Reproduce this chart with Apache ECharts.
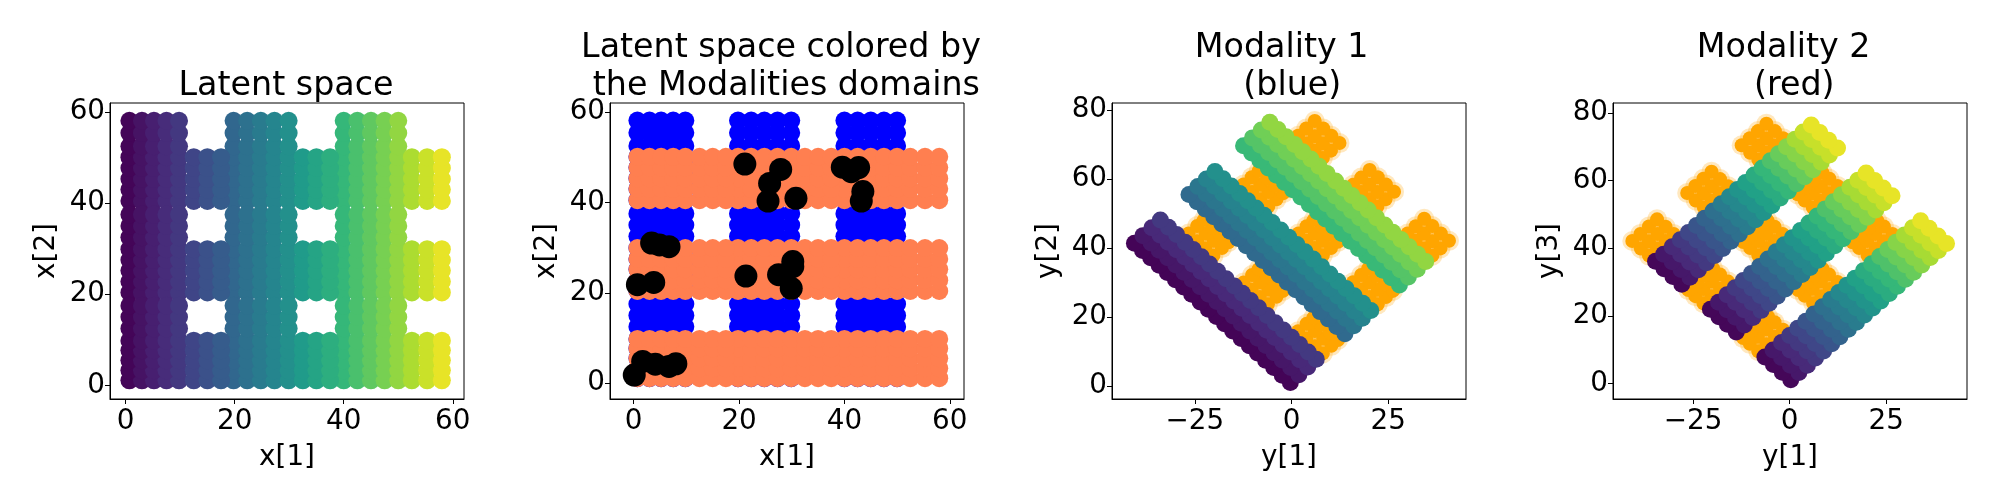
<!DOCTYPE html>
<html>
<head>
<meta charset="utf-8">
<style>
  html, body { margin: 0; padding: 0; background: #fff; }
  #chart { width: 2000px; height: 500px; }
</style>
<script src="https://cdn.jsdelivr.net/npm/echarts@6/dist/echarts.min.js"></script>
</head>
<body>
<div id="chart"></div>
<script>
// tick labels
const latentTicks = [0, 20, 40, 60];
const observedXTicks = [-25, 0, 25];
const observedYTicks = [0, 20, 40, 60, 80];

// latent space, points: [x1, x2]
const sharedPoints = [
  [.7,1.1],[3,1.1],[5.2,1.1],[7.5,1.1],[9.8,1.1],[19.8,1.1],[22.3,1.1],[24.8,1.1],[27.3,1.1],[29.9,1.1],[40,1.1],[42.5,1.1],[45,1.1],[47.5,1.1],[50,1.1],
  [.7,3.3],[3,3.3],[5.2,3.3],[7.5,3.3],[9.8,3.3],[19.8,3.3],[22.3,3.3],[24.8,3.3],[27.3,3.3],[29.9,3.3],[40,3.3],[42.5,3.3],[45,3.3],[47.5,3.3],[50,3.3],
  [.7,5.5],[3,5.5],[5.2,5.5],[7.5,5.5],[9.8,5.5],[19.8,5.5],[22.3,5.5],[24.8,5.5],[27.3,5.5],[29.9,5.5],[40,5.5],[42.5,5.5],[45,5.5],[47.5,5.5],[50,5.5],
  [.7,7.7],[3,7.7],[5.2,7.7],[7.5,7.7],[9.8,7.7],[19.8,7.7],[22.3,7.7],[24.8,7.7],[27.3,7.7],[29.9,7.7],[40,7.7],[42.5,7.7],[45,7.7],[47.5,7.7],[50,7.7],
  [.7,9.8],[3,9.8],[5.2,9.8],[7.5,9.8],[9.8,9.8],[19.8,9.8],[22.3,9.8],[24.8,9.8],[27.3,9.8],[29.9,9.8],[40,9.8],[42.5,9.8],[45,9.8],[47.5,9.8],[50,9.8],
  [.7,20.4],[3,20.4],[5.2,20.4],[7.5,20.4],[9.8,20.4],[19.8,20.4],[22.3,20.4],[24.8,20.4],[27.3,20.4],[29.9,20.4],[40,20.4],[42.5,20.4],[45,20.4],[47.5,20.4],[50,20.4],
  [.7,22.8],[3,22.8],[5.2,22.8],[7.5,22.8],[9.8,22.8],[19.8,22.8],[22.3,22.8],[24.8,22.8],[27.3,22.8],[29.9,22.8],[40,22.8],[42.5,22.8],[45,22.8],[47.5,22.8],[50,22.8],
  [.7,25.2],[3,25.2],[5.2,25.2],[7.5,25.2],[9.8,25.2],[19.8,25.2],[22.3,25.2],[24.8,25.2],[27.3,25.2],[29.9,25.2],[40,25.2],[42.5,25.2],[45,25.2],[47.5,25.2],[50,25.2],
  [.7,27.5],[3,27.5],[5.2,27.5],[7.5,27.5],[9.8,27.5],[19.8,27.5],[22.3,27.5],[24.8,27.5],[27.3,27.5],[29.9,27.5],[40,27.5],[42.5,27.5],[45,27.5],[47.5,27.5],[50,27.5],
  [.7,29.9],[3,29.9],[5.2,29.9],[7.5,29.9],[9.8,29.9],[19.8,29.9],[22.3,29.9],[24.8,29.9],[27.3,29.9],[29.9,29.9],[40,29.9],[42.5,29.9],[45,29.9],[47.5,29.9],[50,29.9],
  [.7,40.5],[3,40.5],[5.2,40.5],[7.5,40.5],[9.8,40.5],[19.8,40.5],[22.3,40.5],[24.8,40.5],[27.3,40.5],[29.9,40.5],[40,40.5],[42.5,40.5],[45,40.5],[47.5,40.5],[50,40.5],
  [.7,43],[3,43],[5.2,43],[7.5,43],[9.8,43],[19.8,43],[22.3,43],[24.8,43],[27.3,43],[29.9,43],[40,43],[42.5,43],[45,43],[47.5,43],[50,43],
  [.7,45.3],[3,45.3],[5.2,45.3],[7.5,45.3],[9.8,45.3],[19.8,45.3],[22.3,45.3],[24.8,45.3],[27.3,45.3],[29.9,45.3],[40,45.3],[42.5,45.3],[45,45.3],[47.5,45.3],[50,45.3],
  [.7,47.7],[3,47.7],[5.2,47.7],[7.5,47.7],[9.8,47.7],[19.8,47.7],[22.3,47.7],[24.8,47.7],[27.3,47.7],[29.9,47.7],[40,47.7],[42.5,47.7],[45,47.7],[47.5,47.7],[50,47.7],
  [.7,50.1],[3,50.1],[5.2,50.1],[7.5,50.1],[9.8,50.1],[19.8,50.1],[22.3,50.1],[24.8,50.1],[27.3,50.1],[29.9,50.1],[40,50.1],[42.5,50.1],[45,50.1],[47.5,50.1],[50,50.1]
];
const blueOnlyPoints = [
  [.7,12.5],[3,12.5],[5.2,12.5],[7.5,12.5],[9.8,12.5],[19.8,12.5],[22.3,12.5],[24.8,12.5],[27.3,12.5],[29.9,12.5],[40,12.5],[42.5,12.5],[45,12.5],[47.5,12.5],[50,12.5],
  [.7,15],[3,15],[5.2,15],[7.5,15],[9.8,15],[19.8,15],[22.3,15],[24.8,15],[27.3,15],[29.9,15],[40,15],[42.5,15],[45,15],[47.5,15],[50,15],
  [.7,17.5],[3,17.5],[5.2,17.5],[7.5,17.5],[9.8,17.5],[19.8,17.5],[22.3,17.5],[24.8,17.5],[27.3,17.5],[29.9,17.5],[40,17.5],[42.5,17.5],[45,17.5],[47.5,17.5],[50,17.5],
  [.7,32.5],[3,32.5],[5.2,32.5],[7.5,32.5],[9.8,32.5],[19.8,32.5],[22.3,32.5],[24.8,32.5],[27.3,32.5],[29.9,32.5],[40,32.5],[42.5,32.5],[45,32.5],[47.5,32.5],[50,32.5],
  [.7,35],[3,35],[5.2,35],[7.5,35],[9.8,35],[19.8,35],[22.3,35],[24.8,35],[27.3,35],[29.9,35],[40,35],[42.5,35],[45,35],[47.5,35],[50,35],
  [.7,37.5],[3,37.5],[5.2,37.5],[7.5,37.5],[9.8,37.5],[19.8,37.5],[22.3,37.5],[24.8,37.5],[27.3,37.5],[29.9,37.5],[40,37.5],[42.5,37.5],[45,37.5],[47.5,37.5],[50,37.5],
  [.7,52.5],[3,52.5],[5.2,52.5],[7.5,52.5],[9.8,52.5],[19.8,52.5],[22.3,52.5],[24.8,52.5],[27.3,52.5],[29.9,52.5],[40,52.5],[42.5,52.5],[45,52.5],[47.5,52.5],[50,52.5],
  [.7,55.4],[3,55.4],[5.2,55.4],[7.5,55.4],[9.8,55.4],[19.8,55.4],[22.3,55.4],[24.8,55.4],[27.3,55.4],[29.9,55.4],[40,55.4],[42.5,55.4],[45,55.4],[47.5,55.4],[50,55.4],
  [.7,58.1],[3,58.1],[5.2,58.1],[7.5,58.1],[9.8,58.1],[19.8,58.1],[22.3,58.1],[24.8,58.1],[27.3,58.1],[29.9,58.1],[40,58.1],[42.5,58.1],[45,58.1],[47.5,58.1],[50,58.1]
];
const redOnlyPoints = [
  [12.5,1.1],[15,1.1],[17.5,1.1],[32.5,1.1],[35,1.1],[37.5,1.1],[52.5,1.1],[55.3,1.1],[58,1.1],
  [12.5,3.3],[15,3.3],[17.5,3.3],[32.5,3.3],[35,3.3],[37.5,3.3],[52.5,3.3],[55.3,3.3],[58,3.3],
  [12.5,5.5],[15,5.5],[17.5,5.5],[32.5,5.5],[35,5.5],[37.5,5.5],[52.5,5.5],[55.3,5.5],[58,5.5],
  [12.5,7.7],[15,7.7],[17.5,7.7],[32.5,7.7],[35,7.7],[37.5,7.7],[52.5,7.7],[55.3,7.7],[58,7.7],
  [12.5,9.8],[15,9.8],[17.5,9.8],[32.5,9.8],[35,9.8],[37.5,9.8],[52.5,9.8],[55.3,9.8],[58,9.8],
  [12.5,20.4],[15,20.4],[17.5,20.4],[32.5,20.4],[35,20.4],[37.5,20.4],[52.5,20.4],[55.3,20.4],[58,20.4],
  [12.5,22.8],[15,22.8],[17.5,22.8],[32.5,22.8],[35,22.8],[37.5,22.8],[52.5,22.8],[55.3,22.8],[58,22.8],
  [12.5,25.2],[15,25.2],[17.5,25.2],[32.5,25.2],[35,25.2],[37.5,25.2],[52.5,25.2],[55.3,25.2],[58,25.2],
  [12.5,27.5],[15,27.5],[17.5,27.5],[32.5,27.5],[35,27.5],[37.5,27.5],[52.5,27.5],[55.3,27.5],[58,27.5],
  [12.5,29.9],[15,29.9],[17.5,29.9],[32.5,29.9],[35,29.9],[37.5,29.9],[52.5,29.9],[55.3,29.9],[58,29.9],
  [12.5,40.5],[15,40.5],[17.5,40.5],[32.5,40.5],[35,40.5],[37.5,40.5],[52.5,40.5],[55.3,40.5],[58,40.5],
  [12.5,43],[15,43],[17.5,43],[32.5,43],[35,43],[37.5,43],[52.5,43],[55.3,43],[58,43],
  [12.5,45.3],[15,45.3],[17.5,45.3],[32.5,45.3],[35,45.3],[37.5,45.3],[52.5,45.3],[55.3,45.3],[58,45.3],
  [12.5,47.7],[15,47.7],[17.5,47.7],[32.5,47.7],[35,47.7],[37.5,47.7],[52.5,47.7],[55.3,47.7],[58,47.7],
  [12.5,50.1],[15,50.1],[17.5,50.1],[32.5,50.1],[35,50.1],[37.5,50.1],[52.5,50.1],[55.3,50.1],[58,50.1]
];
// the black dots of panel 2
const pairedPoints = [
  [.1,1.8],[1.7,4.8],[4.1,4.2],[6.7,3.7],[8,4.3],[.7,21.8],[3.8,22.3],[3.4,31],[4.9,30.6],[6.7,30.2],
  [21.3,23.7],[27.5,24],[30.2,26.9],[30.2,25.8],[29.9,21],[21.1,48.5],[27.9,47.3],[25.8,44.2],[25.5,40.3],
  [30.8,40.9],[39.6,47.8],[41.3,46.8],[42.7,47.7],[43.5,42.4],[43.2,40.3]
];

// modality 1, one line of [y1, y2] along each band, with the band's color value
const m1LineValues = [.5, 3.7, 6.9, 10, 20.5, 23.7, 26.9, 30, 40.5, 43.7, 46.9, 50];
const m1Lines = [
  [[-.3,1.1],[-2.4,3.2],[-4.6,5.4],[-6.7,7.5],[-8.8,9.6],[-10.9,11.7],[-13,13.8],[-15.2,16],[-17.3,18.1],[-19.4,20.2],[-21.5,22.3],[-23.6,24.4],[-25.8,26.6],[-27.9,28.7],[-30,30.8],[-32.1,32.9],[-34.2,35],[-36.4,37.2],[-38.5,39.3],[-40.6,41.4]],
  [[1.9,3.3],[-.2,5.4],[-2.4,7.6],[-4.5,9.7],[-6.6,11.8],[-8.7,13.9],[-10.8,16],[-13,18.2],[-15.1,20.3],[-17.2,22.4],[-19.3,24.5],[-21.4,26.6],[-23.6,28.8],[-25.7,30.9],[-27.8,33],[-29.9,35.1],[-32,37.2],[-34.2,39.4],[-36.3,41.5],[-38.4,43.6]],
  [[4.2,5.6],[2.1,7.7],[-.1,9.9],[-2.2,12],[-4.3,14.1],[-6.4,16.2],[-8.5,18.3],[-10.7,20.5],[-12.8,22.6],[-14.9,24.7],[-17,26.8],[-19.1,28.9],[-21.3,31.1],[-23.4,33.2],[-25.5,35.3],[-27.6,37.4],[-29.7,39.5],[-31.9,41.7],[-34,43.8],[-36.1,45.9]],
  [[6.4,7.8],[4.3,9.9],[2.1,12.1],[0,14.2],[-2.1,16.3],[-4.2,18.4],[-6.3,20.5],[-8.5,22.7],[-10.6,24.8],[-12.7,26.9],[-14.8,29],[-16.9,31.1],[-19.1,33.3],[-21.2,35.4],[-23.3,37.5],[-25.4,39.6],[-27.5,41.7],[-29.7,43.9],[-31.8,46],[-33.9,48.1]],
  [[13.8,15.2],[11.7,17.3],[9.5,19.5],[7.4,21.6],[5.3,23.7],[3.2,25.8],[1.1,27.9],[-1.1,30.1],[-3.2,32.2],[-5.3,34.3],[-7.4,36.4],[-9.5,38.5],[-11.7,40.7],[-13.8,42.8],[-15.9,44.9],[-18,47],[-20.1,49.1],[-22.3,51.3],[-24.4,53.4],[-26.5,55.5]],
  [[16.1,17.5],[14,19.6],[11.8,21.8],[9.7,23.9],[7.6,26],[5.5,28.1],[3.4,30.2],[1.2,32.4],[-.9,34.5],[-3,36.6],[-5.1,38.7],[-7.2,40.8],[-9.4,43],[-11.5,45.1],[-13.6,47.2],[-15.7,49.3],[-17.8,51.4],[-20,53.6],[-22.1,55.7],[-24.2,57.8]],
  [[18.3,19.7],[16.2,21.8],[14,24],[11.9,26.1],[9.8,28.2],[7.7,30.3],[5.6,32.4],[3.4,34.6],[1.3,36.7],[-.8,38.8],[-2.9,40.9],[-5,43],[-7.2,45.2],[-9.3,47.3],[-11.4,49.4],[-13.5,51.5],[-15.6,53.6],[-17.8,55.8],[-19.9,57.9],[-22,60]],
  [[20.5,21.9],[18.4,24],[16.2,26.2],[14.1,28.3],[12,30.4],[9.9,32.5],[7.8,34.6],[5.6,36.8],[3.5,38.9],[1.4,41],[-.7,43.1],[-2.8,45.2],[-5,47.4],[-7.1,49.5],[-9.2,51.6],[-11.3,53.7],[-13.4,55.8],[-15.6,58],[-17.7,60.1],[-19.8,62.2]],
  [[27.9,29.3],[25.8,31.4],[23.6,33.6],[21.5,35.7],[19.4,37.8],[17.3,39.9],[15.2,42],[13,44.2],[10.9,46.3],[8.8,48.4],[6.7,50.5],[4.6,52.6],[2.4,54.8],[.3,56.9],[-1.8,59],[-3.9,61.1],[-6,63.2],[-8.2,65.4],[-10.3,67.5],[-12.4,69.6]],
  [[30.2,31.6],[28.1,33.7],[25.9,35.9],[23.8,38],[21.7,40.1],[19.6,42.2],[17.5,44.3],[15.3,46.5],[13.2,48.6],[11.1,50.7],[9,52.8],[6.9,54.9],[4.7,57.1],[2.6,59.2],[.5,61.3],[-1.6,63.4],[-3.7,65.5],[-5.9,67.7],[-8,69.8],[-10.1,71.9]],
  [[32.5,33.9],[30.4,36],[28.2,38.2],[26.1,40.3],[24,42.4],[21.9,44.5],[19.8,46.6],[17.6,48.8],[15.5,50.9],[13.4,53],[11.3,55.1],[9.2,57.2],[7,59.4],[4.9,61.5],[2.8,63.6],[.7,65.7],[-1.4,67.8],[-3.6,70],[-5.7,72.1],[-7.8,74.2]],
  [[34.7,36.1],[32.6,38.2],[30.4,40.4],[28.3,42.5],[26.2,44.6],[24.1,46.7],[22,48.8],[19.8,51],[17.7,53.1],[15.6,55.2],[13.5,57.3],[11.4,59.4],[9.2,61.6],[7.1,63.7],[5,65.8],[2.9,67.9],[.8,70],[-1.4,72.2],[-3.5,74.3],[-5.6,76.4]]
];
// modality 2, [y1, y3], color value changes along each line
const m2AlongValues = [1, 4, 7, 10, 13, 16, 19, 22, 25, 28, 31, 34, 37, 40, 43, 46, 49, 52, 55, 58];
const m2Lines = [
  [[.3,1.1],[2.4,3.2],[4.6,5.4],[6.7,7.5],[8.8,9.6],[10.9,11.7],[13,13.8],[15.2,16],[17.3,18.1],[19.4,20.2],[21.5,22.3],[23.6,24.4],[25.8,26.6],[27.9,28.7],[30,30.8],[32.1,32.9],[34.2,35],[36.4,37.2],[38.5,39.3],[40.6,41.4]],
  [[-1.9,3.3],[.2,5.4],[2.4,7.6],[4.5,9.7],[6.6,11.8],[8.7,13.9],[10.8,16],[13,18.2],[15.1,20.3],[17.2,22.4],[19.3,24.5],[21.4,26.6],[23.6,28.8],[25.7,30.9],[27.8,33],[29.9,35.1],[32,37.2],[34.2,39.4],[36.3,41.5],[38.4,43.6]],
  [[-4.2,5.6],[-2.1,7.7],[.1,9.9],[2.2,12],[4.3,14.1],[6.4,16.2],[8.5,18.3],[10.7,20.5],[12.8,22.6],[14.9,24.7],[17,26.8],[19.1,28.9],[21.3,31.1],[23.4,33.2],[25.5,35.3],[27.6,37.4],[29.7,39.5],[31.9,41.7],[34,43.8],[36.1,45.9]],
  [[-6.4,7.8],[-4.3,9.9],[-2.1,12.1],[0,14.2],[2.1,16.3],[4.2,18.4],[6.3,20.5],[8.5,22.7],[10.6,24.8],[12.7,26.9],[14.8,29],[16.9,31.1],[19.1,33.3],[21.2,35.4],[23.3,37.5],[25.4,39.6],[27.5,41.7],[29.7,43.9],[31.8,46],[33.9,48.1]],
  [[-13.8,15.2],[-11.7,17.3],[-9.5,19.5],[-7.4,21.6],[-5.3,23.7],[-3.2,25.8],[-1.1,27.9],[1.1,30.1],[3.2,32.2],[5.3,34.3],[7.4,36.4],[9.5,38.5],[11.7,40.7],[13.8,42.8],[15.9,44.9],[18,47],[20.1,49.1],[22.3,51.3],[24.4,53.4],[26.5,55.5]],
  [[-16.1,17.5],[-14,19.6],[-11.8,21.8],[-9.7,23.9],[-7.6,26],[-5.5,28.1],[-3.4,30.2],[-1.2,32.4],[.9,34.5],[3,36.6],[5.1,38.7],[7.2,40.8],[9.4,43],[11.5,45.1],[13.6,47.2],[15.7,49.3],[17.8,51.4],[20,53.6],[22.1,55.7],[24.2,57.8]],
  [[-18.3,19.7],[-16.2,21.8],[-14,24],[-11.9,26.1],[-9.8,28.2],[-7.7,30.3],[-5.6,32.4],[-3.4,34.6],[-1.3,36.7],[.8,38.8],[2.9,40.9],[5,43],[7.2,45.2],[9.3,47.3],[11.4,49.4],[13.5,51.5],[15.6,53.6],[17.8,55.8],[19.9,57.9],[22,60]],
  [[-20.5,21.9],[-18.4,24],[-16.2,26.2],[-14.1,28.3],[-12,30.4],[-9.9,32.5],[-7.8,34.6],[-5.6,36.8],[-3.5,38.9],[-1.4,41],[.7,43.1],[2.8,45.2],[5,47.4],[7.1,49.5],[9.2,51.6],[11.3,53.7],[13.4,55.8],[15.6,58],[17.7,60.1],[19.8,62.2]],
  [[-27.9,29.3],[-25.8,31.4],[-23.6,33.6],[-21.5,35.7],[-19.4,37.8],[-17.3,39.9],[-15.2,42],[-13,44.2],[-10.9,46.3],[-8.8,48.4],[-6.7,50.5],[-4.6,52.6],[-2.4,54.8],[-.3,56.9],[1.8,59],[3.9,61.1],[6,63.2],[8.2,65.4],[10.3,67.5],[12.4,69.6]],
  [[-30.2,31.6],[-28.1,33.7],[-25.9,35.9],[-23.8,38],[-21.7,40.1],[-19.6,42.2],[-17.5,44.3],[-15.3,46.5],[-13.2,48.6],[-11.1,50.7],[-9,52.8],[-6.9,54.9],[-4.7,57.1],[-2.6,59.2],[-.5,61.3],[1.6,63.4],[3.7,65.5],[5.9,67.7],[8,69.8],[10.1,71.9]],
  [[-32.5,33.9],[-30.4,36],[-28.2,38.2],[-26.1,40.3],[-24,42.4],[-21.9,44.5],[-19.8,46.6],[-17.6,48.8],[-15.5,50.9],[-13.4,53],[-11.3,55.1],[-9.2,57.2],[-7,59.4],[-4.9,61.5],[-2.8,63.6],[-.7,65.7],[1.4,67.8],[3.6,70],[5.7,72.1],[7.8,74.2]],
  [[-34.7,36.1],[-32.6,38.2],[-30.4,40.4],[-28.3,42.5],[-26.2,44.6],[-24.1,46.7],[-22,48.8],[-19.8,51],[-17.7,53.1],[-15.6,55.2],[-13.5,57.3],[-11.4,59.4],[-9.2,61.6],[-7.1,63.7],[-5,65.8],[-2.9,67.9],[-.8,70],[1.4,72.2],[3.5,74.3],[5.6,76.4]]
];
// orange points behind the bands
const m1Shadow = [
  [8.1,9.5],[6,11.6],[3.8,13.8],[1.7,15.9],[-6.1,23.7],[-8.2,25.8],[-10.3,27.9],[-12.4,30],[-20.2,37.8],[-22.3,39.9],[-24.4,42],[-26.6,44.2],
  [10.3,11.7],[8.2,13.8],[6,16],[3.9,18.1],[-3.9,25.9],[-6,28],[-8.1,30.1],[-10.2,32.2],[-18,40],[-20.1,42.1],[-22.2,44.2],[-24.4,46.4],
  [12,13.4],[9.9,15.5],[7.7,17.7],[5.6,19.8],[-2.2,27.6],[-4.3,29.7],[-6.4,31.8],[-8.5,33.9],[-16.3,41.7],[-18.4,43.8],[-20.5,45.9],[-22.7,48.1],
  [22.3,23.7],[20.2,25.8],[18,28],[15.9,30.1],[8.1,37.9],[6,40],[3.9,42.1],[1.8,44.2],[-6,52],[-8.1,54.1],[-10.2,56.2],[-12.4,58.4],
  [24.4,25.8],[22.3,27.9],[20.1,30.1],[18,32.2],[10.2,40],[8.1,42.1],[6,44.2],[3.9,46.3],[-3.9,54.1],[-6,56.2],[-8.1,58.3],[-10.3,60.5],
  [26.2,27.6],[24.1,29.7],[21.9,31.9],[19.8,34],[12,41.8],[9.9,43.9],[7.8,46],[5.7,48.1],[-2.1,55.9],[-4.2,58],[-6.3,60.1],[-8.5,62.3],
  [36.4,37.8],[34.3,39.9],[32.1,42.1],[30,44.2],[22.2,52],[20.1,54.1],[18,56.2],[15.9,58.3],[8.1,66.1],[6,68.2],[3.9,70.3],[1.7,72.5],
  [38.5,39.9],[36.4,42],[34.2,44.2],[32.1,46.3],[24.3,54.1],[22.2,56.2],[20.1,58.3],[18,60.4],[10.2,68.2],[8.1,70.3],[6,72.4],[3.8,74.6],
  [40.7,42.1],[38.6,44.2],[36.4,46.4],[34.3,48.5],[26.5,56.3],[24.4,58.4],[22.3,60.5],[20.2,62.6],[12.4,70.4],[10.3,72.5],[8.2,74.6],[6,76.8]
];
const m2Shadow = [
  [-8.1,9.5],[-6,11.6],[-3.8,13.8],[-1.7,15.9],[6.1,23.7],[8.2,25.8],[10.3,27.9],[12.4,30],[20.2,37.8],[22.3,39.9],[24.4,42],[26.6,44.2],
  [-10.3,11.7],[-8.2,13.8],[-6,16],[-3.9,18.1],[3.9,25.9],[6,28],[8.1,30.1],[10.2,32.2],[18,40],[20.1,42.1],[22.2,44.2],[24.4,46.4],
  [-12,13.4],[-9.9,15.5],[-7.7,17.7],[-5.6,19.8],[2.2,27.6],[4.3,29.7],[6.4,31.8],[8.5,33.9],[16.3,41.7],[18.4,43.8],[20.5,45.9],[22.7,48.1],
  [-22.3,23.7],[-20.2,25.8],[-18,28],[-15.9,30.1],[-8.1,37.9],[-6,40],[-3.9,42.1],[-1.8,44.2],[6,52],[8.1,54.1],[10.2,56.2],[12.4,58.4],
  [-24.4,25.8],[-22.3,27.9],[-20.1,30.1],[-18,32.2],[-10.2,40],[-8.1,42.1],[-6,44.2],[-3.9,46.3],[3.9,54.1],[6,56.2],[8.1,58.3],[10.3,60.5],
  [-26.2,27.6],[-24.1,29.7],[-21.9,31.9],[-19.8,34],[-12,41.8],[-9.9,43.9],[-7.8,46],[-5.7,48.1],[2.1,55.9],[4.2,58],[6.3,60.1],[8.5,62.3],
  [-36.4,37.8],[-34.3,39.9],[-32.1,42.1],[-30,44.2],[-22.2,52],[-20.1,54.1],[-18,56.2],[-15.9,58.3],[-8.1,66.1],[-6,68.2],[-3.9,70.3],[-1.7,72.5],
  [-38.5,39.9],[-36.4,42],[-34.2,44.2],[-32.1,46.3],[-24.3,54.1],[-22.2,56.2],[-20.1,58.3],[-18,60.4],[-10.2,68.2],[-8.1,70.3],[-6,72.4],[-3.8,74.6],
  [-40.7,42.1],[-38.6,44.2],[-36.4,46.4],[-34.3,48.5],[-26.5,56.3],[-24.4,58.4],[-22.3,60.5],[-20.2,62.6],[-12.4,70.4],[-10.3,72.5],[-8.2,74.6],[-6,76.8]
];

const viridis = ['#440154', '#482878', '#3e4989', '#31688e', '#26828e', '#1f9e89', '#35b779', '#6ece58', '#b5de2b', '#fde725'];
const FONT = 'DejaVu Sans';

const chart = echarts.init(document.getElementById('chart'), null, { renderer: 'canvas' });

// points with their color value as third column
const m1Data = [];
m1Lines.forEach((line, l) => line.forEach(p => m1Data.push([p[0], p[1], m1LineValues[l]])));
const m2Data = [];
m2Lines.forEach(line => line.forEach((p, i) => m2Data.push([p[0], p[1], m2AlongValues[i]])));

function minusSign(v) {
  return String(v).replace('-', '\u2212');
}

function makeAxis(gridIndex, name, min, max, ticks, gap, margin) {
  return {
    type: 'value', gridIndex, name, min, max,
    nameLocation: 'middle', nameGap: gap,
    nameTextStyle: { fontFamily: FONT, fontSize: 27.8, color: '#000' },
    splitLine: { show: false },
    axisLine: { show: true, onZero: false, lineStyle: { color: '#000', width: 1 } },
    axisTick: { show: true, length: 5, customValues: ticks, lineStyle: { color: '#000', width: 1 } },
    axisLabel: { customValues: ticks, fontFamily: FONT, fontSize: 27.8, color: '#000', margin, formatter: minusSign }
  };
}

function makeTitle(text, left, top) {
  return { text, left, top, textAlign: 'center', textStyle: { fontFamily: FONT, fontSize: 33.3, fontWeight: 'normal', color: '#000', lineHeight: 38 } };
}

function scatter(gridIndex, data, size, color, opacity) {
  const itemStyle = { opacity: opacity === undefined ? 1 : opacity };
  if (color) itemStyle.color = color;
  return { type: 'scatter', xAxisIndex: gridIndex, yAxisIndex: gridIndex, data, symbolSize: size, progressive: 0, silent: true, itemStyle };
}

const gridBox = { show: true, borderColor: '#000', borderWidth: 1, top: 103, height: 296, width: 354 };

chart.setOption({
  animation: false,
  backgroundColor: '#fff',
  title: [
    makeTitle('Latent space', 281, 62),
    makeTitle('Latent space colored by\n the Modalities domains', 776, 24),
    makeTitle('Modality 1 \n (blue)', 1282, 24),
    makeTitle('Modality 2 \n (red)', 1784, 24)
  ],
  grid: [
    Object.assign({ left: 110 }, gridBox),
    Object.assign({ left: 610 }, gridBox),
    Object.assign({ left: 1112 }, gridBox),
    Object.assign({ left: 1613 }, gridBox)
  ],
  xAxis: [
    makeAxis(0, 'x[1]', -2.86, 62.06, latentTicks, 45, 9),
    makeAxis(1, 'x[1]', -4.5, 62.7, latentTicks, 45, 9),
    makeAxis(2, 'y[1]', -46.4, 45.1, observedXTicks, 45, 9),
    makeAxis(3, 'y[1]', -45.7, 45.9, observedXTicks, 45, 9)
  ],
  yAxis: [
    makeAxis(0, 'x[2]', -3, 62, latentTicks, 49, 5),
    makeAxis(1, 'x[2]', -3.5, 62, latentTicks, 49, 5),
    makeAxis(2, 'y[2]', -3.7, 82, observedYTicks, 49, 5),
    makeAxis(3, 'y[3]', -4.6, 82.9, observedYTicks, 49, 5)
  ],
  visualMap: [
    { show: false, seriesIndex: 0, dimension: 0, min: 0, max: 60, inRange: { color: viridis } },
    { show: false, seriesIndex: 6, dimension: 2, min: 0, max: 60, inRange: { color: viridis } },
    { show: false, seriesIndex: 9, dimension: 2, min: 0, max: 60, inRange: { color: viridis } }
  ],
  series: [
    scatter(0, sharedPoints.concat(blueOnlyPoints, redOnlyPoints), 18),
    scatter(1, sharedPoints.concat(blueOnlyPoints), 18, '#0000ff'),
    scatter(1, sharedPoints.concat(redOnlyPoints), 18, '#ff7f50'),
    scatter(1, pairedPoints, 23, '#000'),
    scatter(2, m1Shadow, 20, '#ffa500', 0.25),
    scatter(2, m1Shadow, 14, '#ffa500'),
    scatter(2, m1Data, 17),
    scatter(3, m2Shadow, 20, '#ffa500', 0.25),
    scatter(3, m2Shadow, 14, '#ffa500'),
    scatter(3, m2Data, 17)
  ]
});
</script>
</body>
</html>
